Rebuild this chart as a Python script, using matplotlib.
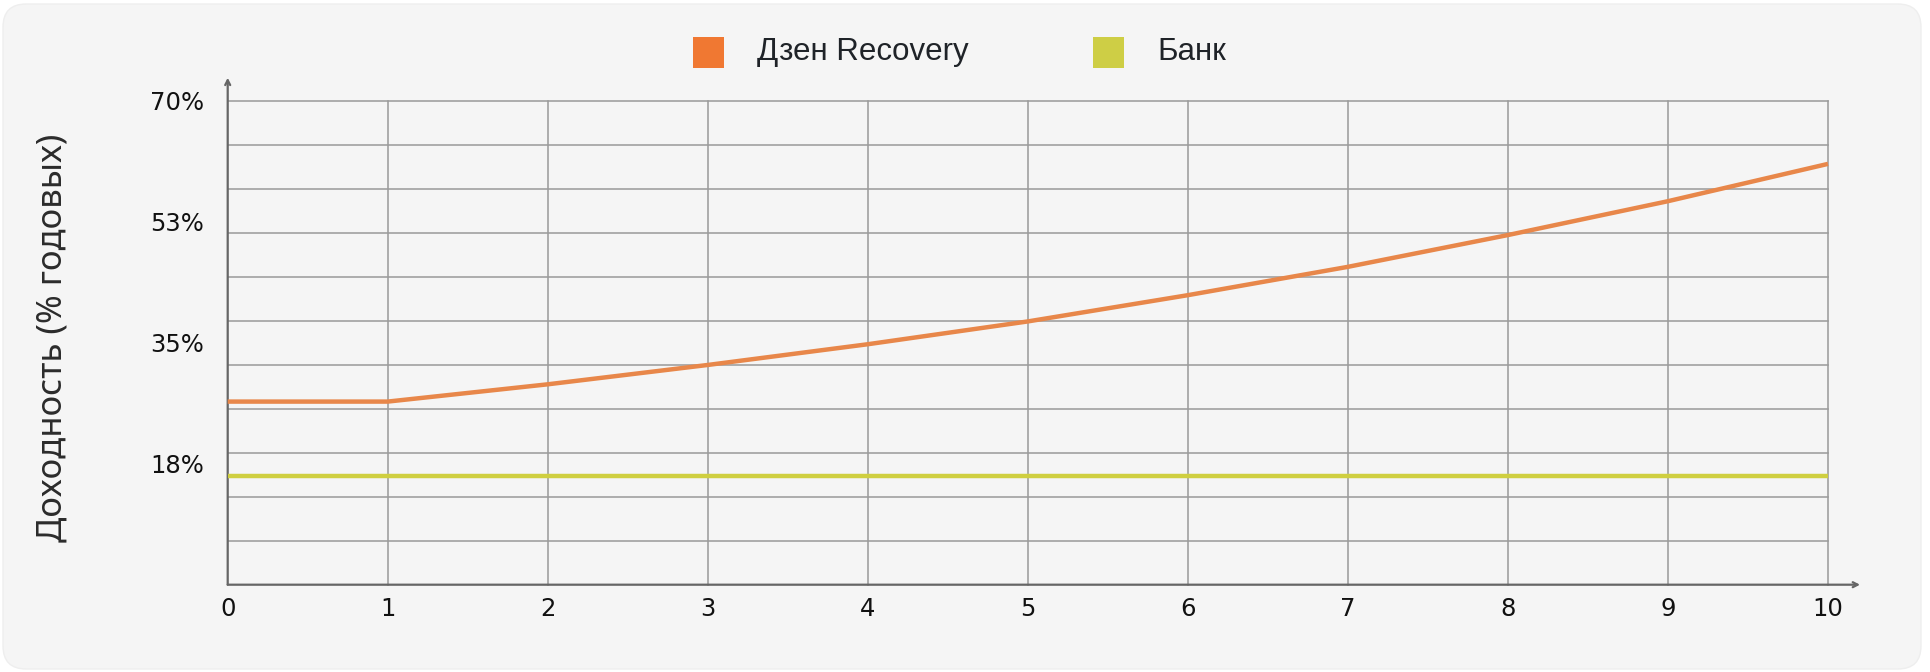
import matplotlib
matplotlib.use("Agg")
import matplotlib.pyplot as plt
from matplotlib.patches import FancyBboxPatch, Rectangle
import numpy as np

# ---- data ----
years = [0, 1, 2, 3, 4, 5, 6, 7, 8, 9, 10]
zen_recovery = [26.5, 26.5, 29.0, 31.8, 34.8, 38.1, 41.9, 46.0, 50.6, 55.5, 60.9]
bank = [15.8, 15.8, 15.8, 15.8, 15.8, 15.8, 15.8, 15.8, 15.8, 15.8, 15.8]
series_names = ["Дзен Recovery", "Банк"]
y_tick_values = [17.5, 35, 52.5, 70]
y_tick_labels = ["18%", "35%", "53%", "70%"]
x_tick_labels = ["0", "1", "2", "3", "4", "5", "6", "7", "8", "9", "10"]
y_label = "Доходность (% годовых)"

line_colors = ["#E8874A", "#CFCF40"]
legend_colors = ["#F07832", "#CECE45"]

W, H = 1930, 672
fig = plt.figure(figsize=(W / 100, H / 100), dpi=100)
fig.patch.set_facecolor("white")

# card background
card = FancyBboxPatch((3 / W, 3 / H), (W - 12) / W, (H - 7) / H,
                      boxstyle="round,pad=0,rounding_size=0.012",
                      transform=fig.transFigure, facecolor="#F5F5F5",
                      edgecolor="#EEEEEE", lw=1.0, zorder=-10,
                      mutation_aspect=W / H)
fig.patches.append(card)

ax = fig.add_axes([227.7 / W, 1 - 584.7 / H, (1828 - 227.7) / W, (584.7 - 101) / H])
ax.set_zorder(5)
ax.set_facecolor("none")
ax.patch.set_alpha(0)
ax.set_xlim(0, 10)
ax.set_ylim(0, 70)

# grid
grid_color = "#9C9C9C"
for yv in np.linspace(0, 70, 12)[1:]:
    ax.axhline(yv, color=grid_color, lw=1.15, zorder=1, clip_on=False)
for xv in years[1:]:
    ax.axvline(xv, color=grid_color, lw=1.15, zorder=1, clip_on=False)

for s in ax.spines.values():
    s.set_visible(False)

# axes with arrows
axis_color = "#666666"
ax.annotate("", xy=(0, 1.048), xytext=(0, 0), xycoords="axes fraction",
            arrowprops=dict(arrowstyle="->,head_length=0.35,head_width=0.18",
                            color=axis_color, lw=1.6, shrinkA=0, shrinkB=0), zorder=3)
ax.annotate("", xy=(1.02, 0), xytext=(0, 0), xycoords="axes fraction",
            arrowprops=dict(arrowstyle="->,head_length=0.35,head_width=0.18",
                            color=axis_color, lw=1.6, shrinkA=0, shrinkB=0), zorder=3)

# data lines
ax.plot(years, zen_recovery, color=line_colors[0], lw=3.2, zorder=4,
        solid_capstyle="butt", clip_on=False)
ax.plot(years, bank, color=line_colors[1], lw=3.2, zorder=4,
        solid_capstyle="butt", clip_on=False)

# ticks
ax.set_xticks(years)
ax.set_xticklabels(x_tick_labels, fontsize=17.5, family="DejaVu Sans", color="#111111")
ax.set_yticks(y_tick_values)
ax.set_yticklabels(y_tick_labels, fontsize=17.5, family="DejaVu Sans", color="#111111")
ax.tick_params(axis="both", length=0)
ax.tick_params(axis="x", pad=9)
ax.tick_params(axis="y", pad=17)

ax.set_ylabel(y_label, fontsize=25, family="Noto Sans", color="#2B2B2B", labelpad=0)
ax.yaxis.set_label_coords(-0.099, 0.51)

# legend (manual)
leg_sq_x = [693, 1093]
leg_txt_x = [757, 1157]
leg_cy = 52
sq = 31
for i, name in enumerate(series_names):
    fig.patches.append(Rectangle((leg_sq_x[i] / W, 1 - (leg_cy + sq / 2) / H), sq / W, sq / H,
                                 transform=fig.transFigure, facecolor=legend_colors[i],
                                 edgecolor="none", zorder=2))
    fig.text(leg_txt_x[i] / W, 1 - leg_cy / H, name, fontsize=22.5,
             family="Liberation Sans", color="#1F2328", va="center", ha="left")

fig.savefig("out.png", dpi=100, facecolor=fig.get_facecolor())
